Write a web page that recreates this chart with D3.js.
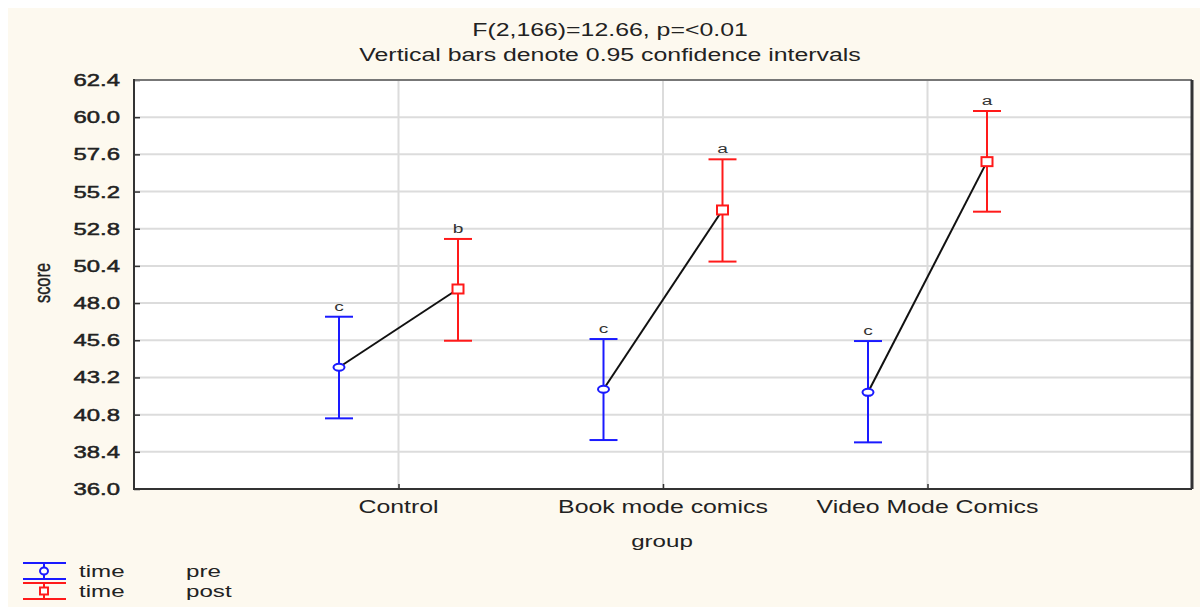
<!DOCTYPE html>
<html>
<head>
<meta charset="utf-8">
<script src="https://cdn.jsdelivr.net/npm/d3@7"></script>
<style>
  body { margin: 0; background: #fff; }
  svg { display: block; font-family: "Liberation Sans", Arial, sans-serif; }
</style>
</head>
<body>
<svg width="1200" height="607"></svg>
<script>
// data
var groups = ["Control", "Book mode comics", "Video Mode Comics"];
var times = ["pre", "post"];
var preMean = [43.86, 42.44, 42.24];
var preLow = [40.56, 39.16, 39.01];
var preHigh = [47.12, 45.68, 45.55];
var postMean = [48.91, 54.01, 57.13];
var postLow = [45.57, 50.68, 53.9];
var postHigh = [52.14, 57.28, 60.4];
var letterPre = ["c", "c", "c"];
var letterPost = ["b", "a", "a"];
var yTicks = [36.0, 38.4, 40.8, 43.2, 45.6, 48.0, 50.4, 52.8, 55.2, 57.6, 60.0, 62.4];

var svg = d3.select("svg");
var pLeft = 134, pRight = 1192, pTop = 80, pBottom = 489;
var stretch = 1.42; // the original picture is stretched sideways

// text helper: places a horizontally stretched label
function label(sel, px, py, str, size, anchor, color) {
    return sel.append("text")
        .attr("transform", "translate(" + px + "," + py + ") scale(" + stretch + ",1)")
        .attr("text-anchor", anchor || "start")
        .attr("font-size", size)
        .attr("fill", color || "#222")
        .text(str);
}

svg.append("rect").attr("x", 8).attr("y", 8).attr("width", 1192).attr("height", 599)
    .attr("fill", "#fdf9ef");
svg.append("rect").attr("x", pLeft).attr("y", pTop).attr("width", pRight - pLeft).attr("height", pBottom - pTop)
    .attr("fill", "#fff");

var x = d3.scaleLinear().domain([0, 4]).range([pLeft, pRight]);
var y = d3.scaleLinear().domain([36, 62.4]).range([pBottom, pTop]);
var offset = 59.5;

// grid
svg.append("g").selectAll("line").data(yTicks.slice(1, -1)).enter().append("line")
    .attr("x1", pLeft).attr("x2", pRight)
    .attr("y1", function (d) { return y(d); }).attr("y2", function (d) { return y(d); })
    .attr("stroke", "#dcdcdc").attr("stroke-width", 2);
svg.append("g").selectAll("line").data(groups).enter().append("line")
    .attr("x1", function (d, i) { return x(i + 1); }).attr("x2", function (d, i) { return x(i + 1); })
    .attr("y1", pTop).attr("y2", pBottom)
    .attr("stroke", "#dcdcdc").attr("stroke-width", 2);

// y axis
var yAxis = svg.append("g").attr("transform", "translate(" + pLeft + ",0)")
    .call(d3.axisRight(y).tickValues(yTicks).tickSize(6).tickFormat(""));
yAxis.select(".domain").remove();
yAxis.selectAll("line").attr("stroke", "#333").attr("stroke-width", 1.5);
var yLab = svg.append("g");
yTicks.forEach(function (d) {
    label(yLab, 120, y(d) + 6, d3.format(".1f")(d), 16.8, "end")
        .attr("stroke", "#222").attr("stroke-width", 0.5);
});

// x axis
var xAxis = svg.append("g").attr("transform", "translate(0," + pBottom + ")")
    .call(d3.axisTop(x).tickValues([1, 2, 3]).tickSize(5).tickFormat(""));
xAxis.select(".domain").remove();
xAxis.selectAll("line").attr("stroke", "#333").attr("stroke-width", 1.5);
var xLab = svg.append("g");
groups.forEach(function (d, i) {
    label(xLab, x(i + 1), 513, d, 17.5, "middle");
});

// frame
svg.append("line").attr("x1", pLeft).attr("x2", pRight).attr("y1", pTop).attr("y2", pTop)
    .attr("stroke", "#777").attr("stroke-width", 2);
svg.append("line").attr("x1", pRight).attr("x2", pRight).attr("y1", pTop).attr("y2", pBottom)
    .attr("stroke", "#333").attr("stroke-width", 3);
svg.append("line").attr("x1", pLeft).attr("x2", pLeft).attr("y1", pTop - 1).attr("y2", pBottom + 1)
    .attr("stroke", "#333").attr("stroke-width", 2);
svg.append("line").attr("x1", pLeft).attr("x2", pRight).attr("y1", pBottom).attr("y2", pBottom)
    .attr("stroke", "#333").attr("stroke-width", 2);

// titles
label(svg, 610, 36, "F(2,166)=12.66, p=<0.01", 17.5, "middle");
label(svg, 610, 61, "Vertical bars denote 0.95 confidence intervals", 17.5, "middle");
label(svg, 662, 547, "group", 17, "middle");
svg.append("text").attr("transform", "translate(50,283) scale(" + stretch + ",1) rotate(-90)")
    .attr("text-anchor", "middle").attr("font-size", 15).attr("fill", "#222")
    .attr("stroke", "#222").attr("stroke-width", 0.3)
    .attr("textLength", 40).attr("lengthAdjust", "spacingAndGlyphs").text("score");

// connecting lines
var pts = groups.map(function (g, i) {
    return { pre: [x(i + 1) - offset, y(preMean[i])], post: [x(i + 1) + offset, y(postMean[i])] };
});
svg.append("g").selectAll("line").data(pts).enter().append("line")
    .attr("x1", function (d) { return d.pre[0]; }).attr("y1", function (d) { return d.pre[1]; })
    .attr("x2", function (d) { return d.post[0]; }).attr("y2", function (d) { return d.post[1]; })
    .attr("stroke", "#111").attr("stroke-width", 2);

function drawSeries(mean, low, high, letters, dx, color, shape) {
    var g = svg.append("g").selectAll("g").data(groups).enter().append("g")
        .attr("transform", function (d, i) { return "translate(" + (x(i + 1) + dx) + ",0)"; });
    g.append("line").attr("y1", function (d, i) { return y(low[i]); })
        .attr("y2", function (d, i) { return y(high[i]); })
        .attr("stroke", color).attr("stroke-width", 2);
    g.append("line").attr("x1", -14).attr("x2", 14)
        .attr("y1", function (d, i) { return y(low[i]); }).attr("y2", function (d, i) { return y(low[i]); })
        .attr("stroke", color).attr("stroke-width", 2);
    g.append("line").attr("x1", -14).attr("x2", 14)
        .attr("y1", function (d, i) { return y(high[i]); }).attr("y2", function (d, i) { return y(high[i]); })
        .attr("stroke", color).attr("stroke-width", 2);
    if (shape === "circle") {
        g.append("ellipse").attr("cy", function (d, i) { return y(mean[i]); })
            .attr("rx", 5.5).attr("ry", 3.5).attr("fill", "#fff").attr("stroke", color).attr("stroke-width", 2);
    } else {
        g.append("rect").attr("x", -5.5).attr("y", function (d, i) { return y(mean[i]) - 4.5; })
            .attr("width", 11).attr("height", 9).attr("fill", "#fff").attr("stroke", color).attr("stroke-width", 2);
    }
    g.each(function (d, i) {
        label(d3.select(this), 0, y(high[i]) - 6, letters[i], 13.5, "middle", "#333");
    });
}
drawSeries(preMean, preLow, preHigh, letterPre, -offset, "#1a1aff", "circle");
drawSeries(postMean, postLow, postHigh, letterPost, offset, "#ff1a1a", "square");

// legend
var legend = svg.append("g").selectAll("g").data(times).enter().append("g")
    .attr("transform", function (d, i) { return "translate(0," + (571 + i * 20) + ")"; });
function lc(d, i) { return i ? "#ff1a1a" : "#1a1aff"; }
legend.append("line").attr("x1", 23).attr("x2", 66).attr("y1", -8).attr("y2", -8)
    .attr("stroke", lc).attr("stroke-width", 2);
legend.append("line").attr("x1", 23).attr("x2", 66).attr("y1", 8).attr("y2", 8)
    .attr("stroke", lc).attr("stroke-width", 2);
legend.append("line").attr("x1", 44).attr("x2", 44).attr("y1", -8).attr("y2", 8)
    .attr("stroke", lc).attr("stroke-width", 2);
legend.append("rect").attr("x", 40).attr("y", -3.5).attr("width", 8).attr("height", 7)
    .attr("rx", function (d, i) { return i ? 0 : 4; })
    .attr("fill", "#fff").attr("stroke", lc).attr("stroke-width", 2);
legend.each(function (d) {
    label(d3.select(this), 79, 6, "time", 17, "start");
    label(d3.select(this), 186, 6, d, 17, "start");
});
</script>
</body>
</html>
